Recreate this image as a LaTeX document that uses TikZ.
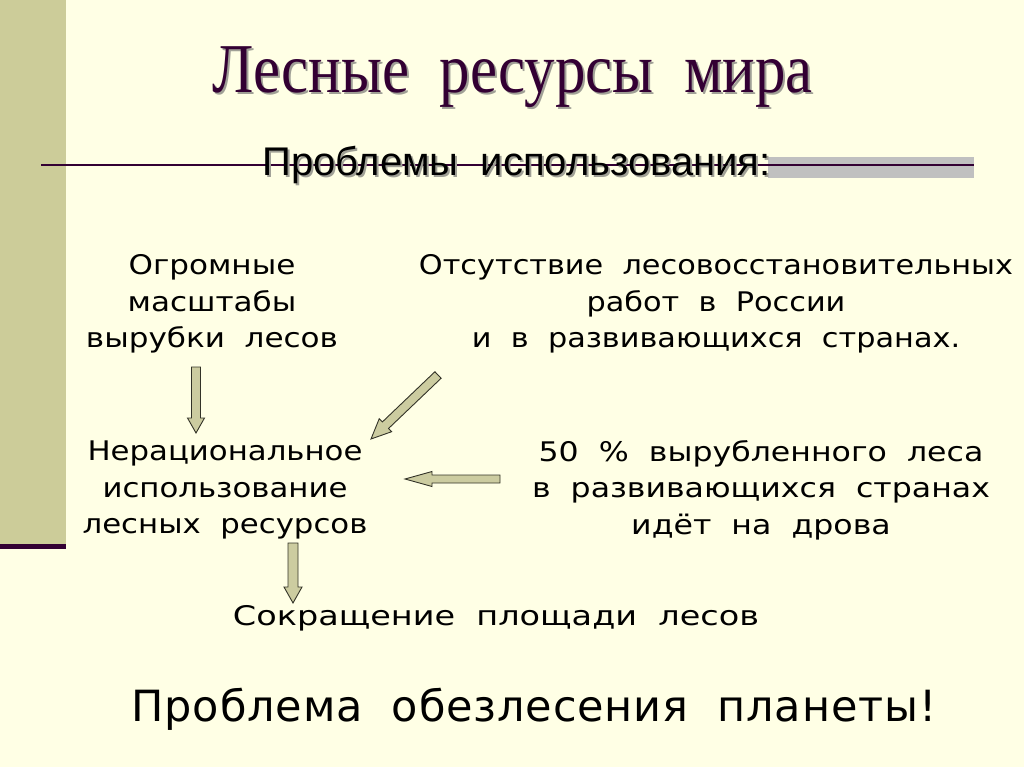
\documentclass[tikz,border=0pt]{standalone}
\usepackage{fontspec}
\setmainfont{Liberation Serif}
\newfontfamily\subfont{Liberation Sans}
\newfontfamily\bodyfont{DejaVu Sans}[WordSpace=2]
\usetikzlibrary{calc}
\definecolor{bg}{RGB}{255,255,229}
\definecolor{barcol}{RGB}{204,204,153}
\definecolor{plum}{RGB}{51,0,51}
\definecolor{arrfill}{RGB}{204,204,160}
\definecolor{arrline}{RGB}{51,51,40}
\definecolor{shadowgray}{RGB}{160,160,150}
\definecolor{bandgray}{RGB}{192,192,192}
\tikzset{
  body/.style={font=\bodyfont\fontsize{27}{36.5}\selectfont, xscale=#1, align=center, inner sep=0pt, text=black},
  body/.default=1.14,
  blockarrow/.style={draw=arrline, fill=arrfill, line width=0.9pt, line join=miter},
}
\newcommand{\blockarr}[5]{%
  \coordinate (ba-h) at ($(#2)!#5!(#1)$);
  \draw[blockarrow] ($(#1)!#3!90:(#2)$) -- ($(ba-h)!#3!-90:(#1)$) -- ($(ba-h)!#4!-90:(#1)$) -- (#2) -- ($(ba-h)!#4!90:(#1)$) -- ($(ba-h)!#3!90:(#1)$) -- ($(#1)!#3!-90:(#2)$) -- cycle;
}
\begin{document}
\begin{tikzpicture}[x=1pt,y=-1pt]
\useasboundingbox (0,0) rectangle (1024,767);
\fill[bg] (0,0) rectangle (1024,767);
% left bar
\fill[barcol] (0,0) rectangle (66,545);
\fill[plum] (0,544) rectangle (66,549);
% title
\node[anchor=base, text=shadowgray, xscale=0.87, font=\fontsize{70}{74}\selectfont] at (514.5,95) {Лесные\ \ ресурсы\ \ мира};
\node (title) [anchor=base, text=plum, xscale=0.87, font=\fontsize{70}{74}\selectfont] at (512.5,93) {Лесные\ \ ресурсы\ \ мира};
% rule with gray band
\fill[bandgray] (768,157) rectangle (974,178);
\coordinate (ruleL) at (41,165);
\coordinate (ruleR) at (974,165);
\draw[plum, line width=2pt] (ruleL) -- (ruleR);
% subtitle
\node[anchor=base, text=shadowgray, font=\subfont\fontsize{40}{42}\selectfont] at (518.5,178) {Проблемы\ \ использования:};
\node (sub) [anchor=base, text=black, font=\subfont\fontsize{40}{42}\selectfont] at (516.5,176) {Проблемы\ \ использования:};
% body
\node (n1) [body=1.15] at (212,304) {Огромные\\масштабы\\вырубки лесов};
\node (n2) [body=1.123] at (716,304) {Отсутствие лесовосстановительных\\работ в России\\и в развивающихся странах.};
\node (n3) [body=1.14] at (225,490) {Нерациональное\\использование\\лесных ресурсов};
\node (n4) [body=1.17] at (761,490) {50 \% вырубленного леса\\в развивающихся странах\\идёт на дрова};
\node (n5) [body=1.24, anchor=base] at (496,625) {Сокращение площади лесов};
\node (n6) [anchor=base, font=\bodyfont\fontsize{43}{46}\selectfont\addfontfeature{LetterSpace=2}] at (534,721) {Проблема обезлесения планеты!};
% arrows
\coordinate (a1s) at (196,367); \coordinate (a1t) at (196,433);
\coordinate (a2s) at (438,375); \coordinate (a2t) at (371,439);
\coordinate (a3s) at (500,479); \coordinate (a3t) at (405,479);
\coordinate (a4s) at (293,543); \coordinate (a4t) at (293,603);
\blockarr{a1s}{a1t}{4.5pt}{8.5pt}{15pt}
\blockarr{a2s}{a2t}{4.5pt}{9pt}{20pt}
\blockarr{a3s}{a3t}{4pt}{7.5pt}{27pt}
\blockarr{a4s}{a4t}{5pt}{9pt}{16pt}
\end{tikzpicture}
\end{document}
